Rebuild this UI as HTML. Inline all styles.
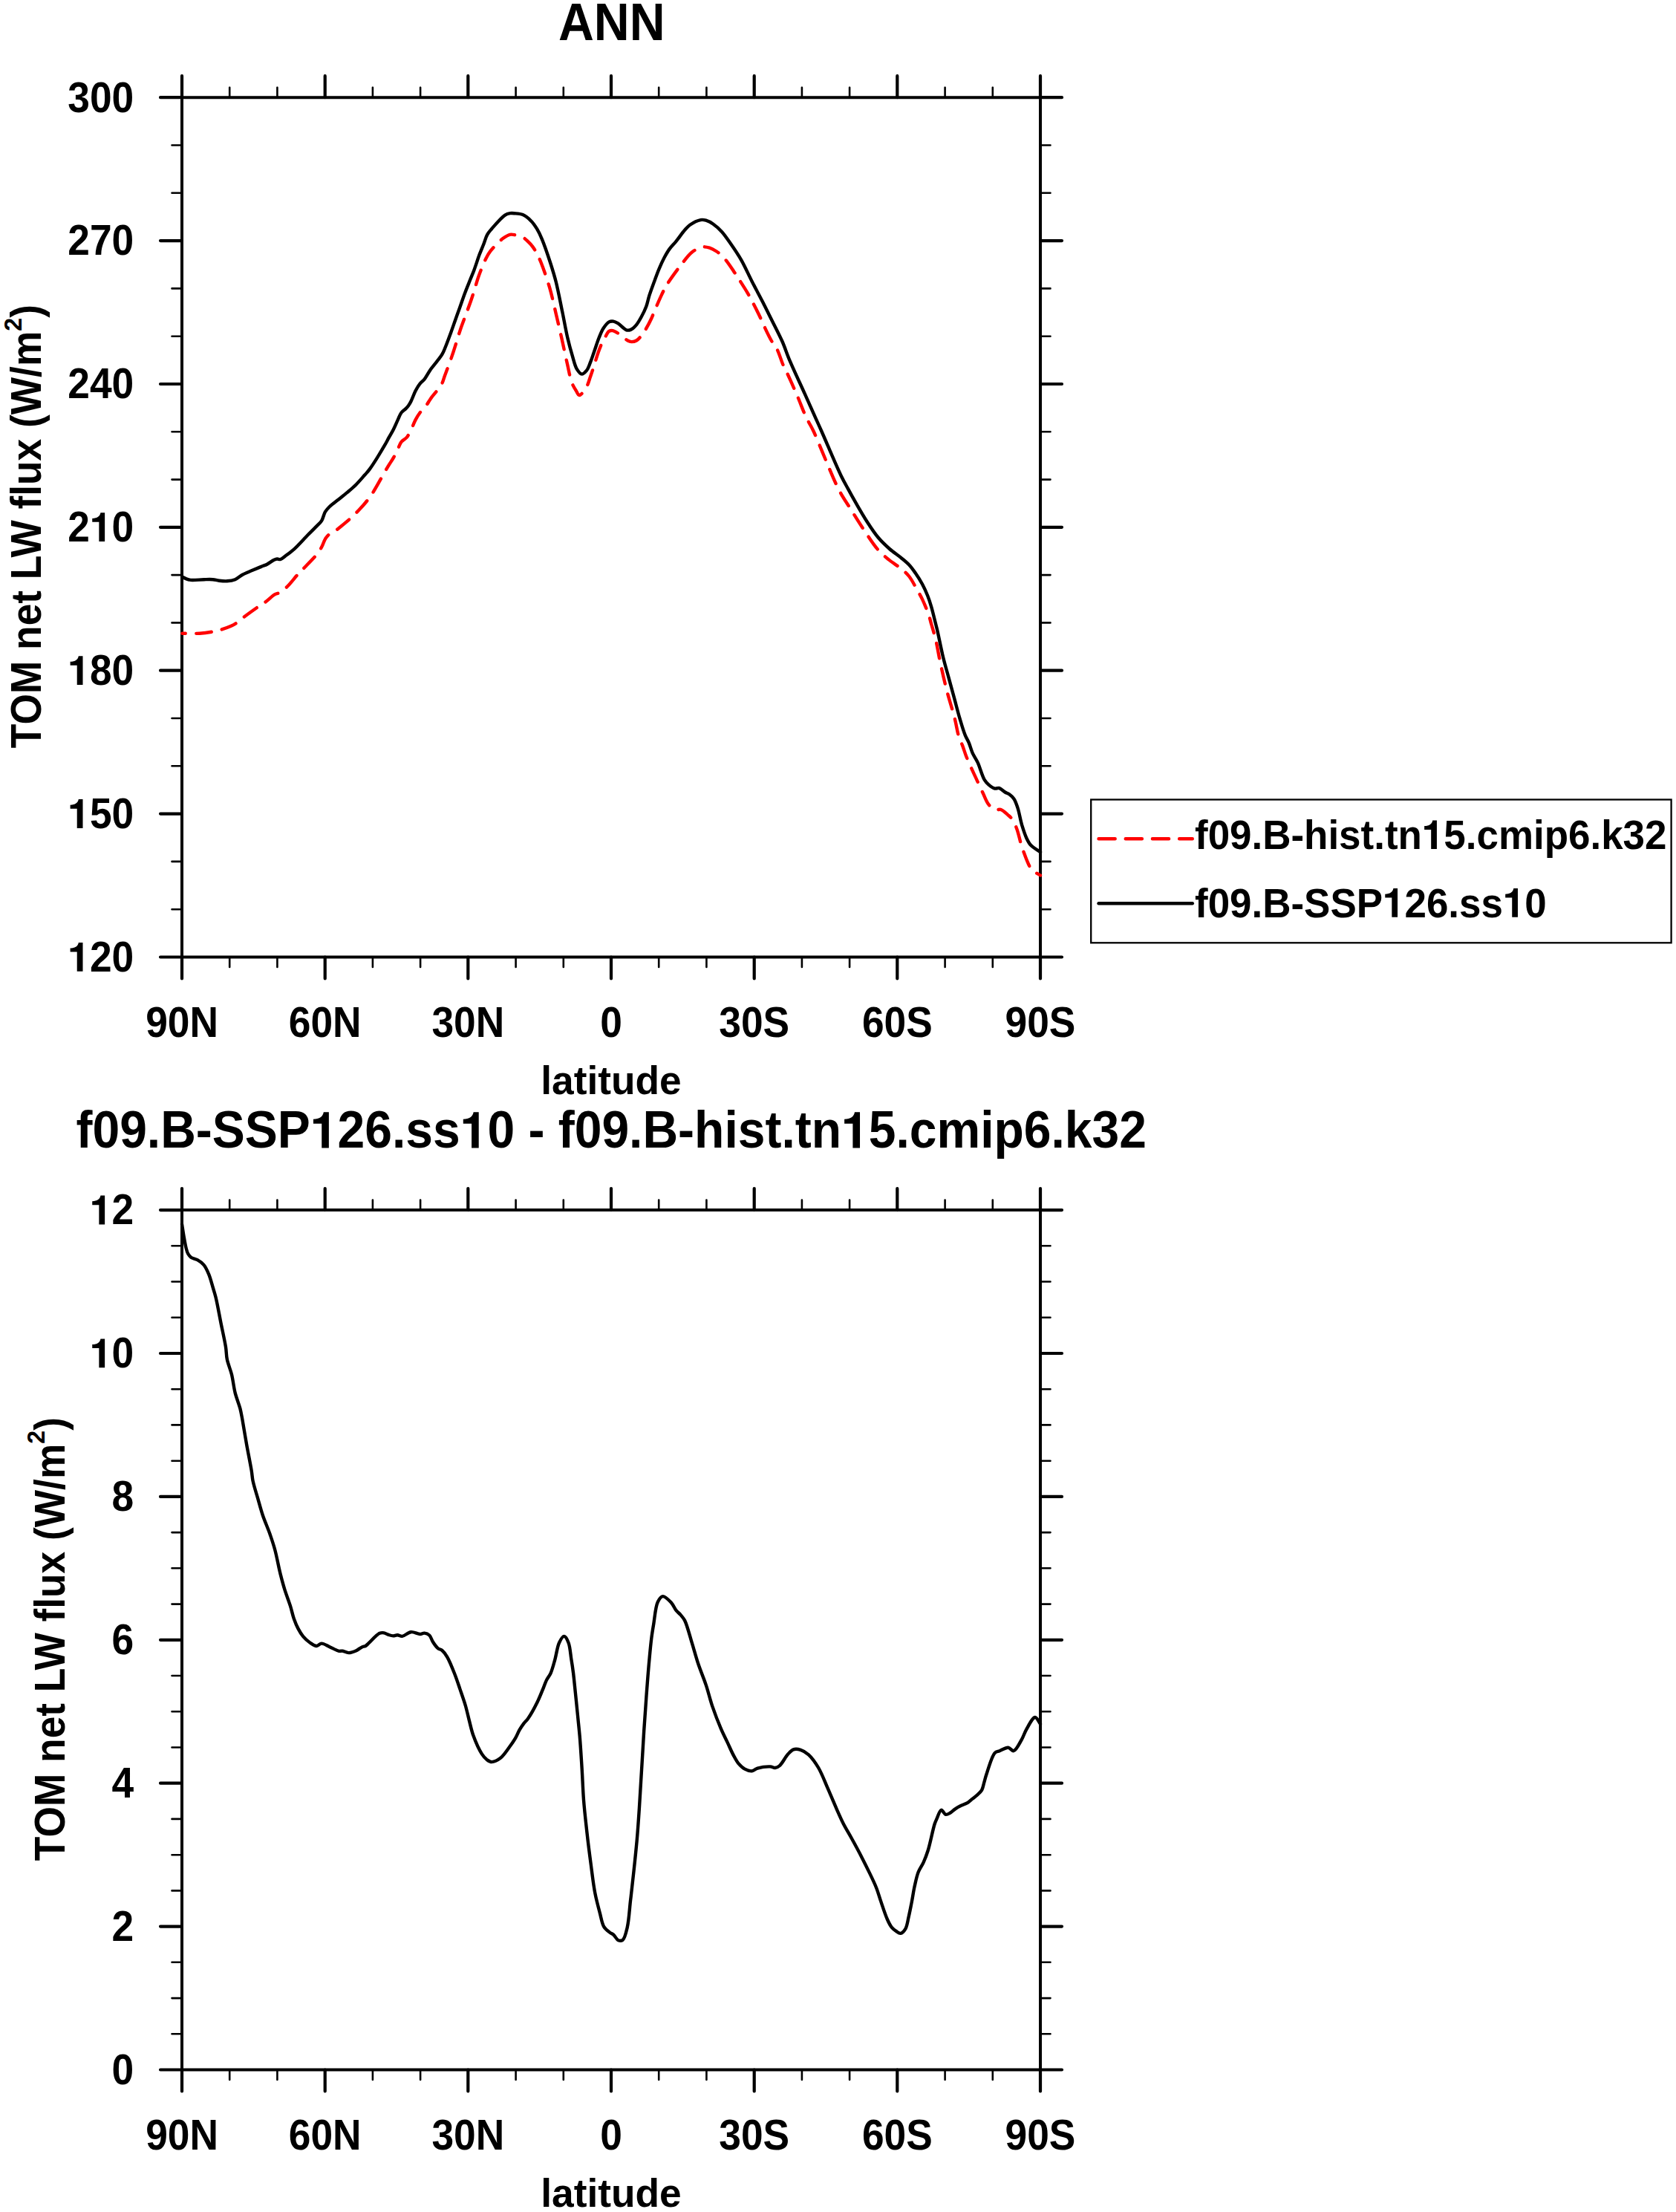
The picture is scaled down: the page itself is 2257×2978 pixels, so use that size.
<!DOCTYPE html><html><head><meta charset="utf-8"><style>html,body{margin:0;padding:0;background:#fff;overflow:hidden}svg{display:block}text{font-family:"Liberation Sans",sans-serif;font-weight:bold;fill:#000}</style></head><body>
<svg width="2257" height="2978" viewBox="0 0 2257 2978">
<rect width="2257" height="2978" fill="#fff"/>
<text transform="translate(823.7 53.9) scale(1 1.06)" font-size="66.3" text-anchor="middle">ANN</text>
<path d="M245 131.2 H1401 V1288.5 H245 Z" fill="none" stroke="#000" stroke-width="4.0" stroke-linejoin="round"/>
<path d="M245 131.2 V102.2 M245 1288.5 V1317.5 M437.7 131.2 V102.2 M437.7 1288.5 V1317.5 M630.3 131.2 V102.2 M630.3 1288.5 V1317.5 M823 131.2 V102.2 M823 1288.5 V1317.5 M1015.7 131.2 V102.2 M1015.7 1288.5 V1317.5 M1208.3 131.2 V102.2 M1208.3 1288.5 V1317.5 M1401 131.2 V102.2 M1401 1288.5 V1317.5 M245 131.2 H216 M1401 131.2 H1430 M245 324.1 H216 M1401 324.1 H1430 M245 517 H216 M1401 517 H1430 M245 709.8 H216 M1401 709.8 H1430 M245 902.7 H216 M1401 902.7 H1430 M245 1095.6 H216 M1401 1095.6 H1430 M245 1288.5 H216 M1401 1288.5 H1430" stroke="#000" stroke-width="4.2" stroke-linecap="round" fill="none"/>
<path d="M309.2 131.2 V117.7 M309.2 1288.5 V1302 M373.4 131.2 V117.7 M373.4 1288.5 V1302 M501.9 131.2 V117.7 M501.9 1288.5 V1302 M566.1 131.2 V117.7 M566.1 1288.5 V1302 M694.6 131.2 V117.7 M694.6 1288.5 V1302 M758.8 131.2 V117.7 M758.8 1288.5 V1302 M887.2 131.2 V117.7 M887.2 1288.5 V1302 M951.4 131.2 V117.7 M951.4 1288.5 V1302 M1079.9 131.2 V117.7 M1079.9 1288.5 V1302 M1144.1 131.2 V117.7 M1144.1 1288.5 V1302 M1272.6 131.2 V117.7 M1272.6 1288.5 V1302 M1336.8 131.2 V117.7 M1336.8 1288.5 V1302 M245 195.5 H231.5 M1401 195.5 H1414.5 M245 259.8 H231.5 M1401 259.8 H1414.5 M245 388.4 H231.5 M1401 388.4 H1414.5 M245 452.7 H231.5 M1401 452.7 H1414.5 M245 581.3 H231.5 M1401 581.3 H1414.5 M245 645.6 H231.5 M1401 645.6 H1414.5 M245 774.1 H231.5 M1401 774.1 H1414.5 M245 838.4 H231.5 M1401 838.4 H1414.5 M245 967 H231.5 M1401 967 H1414.5 M245 1031.3 H231.5 M1401 1031.3 H1414.5 M245 1159.9 H231.5 M1401 1159.9 H1414.5 M245 1224.2 H231.5 M1401 1224.2 H1414.5" stroke="#000" stroke-width="2.6" stroke-linecap="round" fill="none"/>
<text transform="translate(180.2 150.5) scale(1 1.06)" font-size="53.3" text-anchor="end">300</text>
<text transform="translate(180.2 343.4) scale(1 1.06)" font-size="53.3" text-anchor="end">270</text>
<text transform="translate(180.2 536.3) scale(1 1.06)" font-size="53.3" text-anchor="end">240</text>
<text transform="translate(180.2 729.1) scale(1 1.06)" font-size="53.3" text-anchor="end">210</text>
<text transform="translate(180.2 922) scale(1 1.06)" font-size="53.3" text-anchor="end">180</text>
<text transform="translate(180.2 1114.9) scale(1 1.06)" font-size="53.3" text-anchor="end">150</text>
<text transform="translate(180.2 1307.8) scale(1 1.06)" font-size="53.3" text-anchor="end">120</text>
<text transform="translate(245 1395.5) scale(1 1.06)" font-size="53.3" text-anchor="middle">90N</text>
<text transform="translate(437.7 1395.5) scale(1 1.06)" font-size="53.3" text-anchor="middle">60N</text>
<text transform="translate(630.3 1395.5) scale(1 1.06)" font-size="53.3" text-anchor="middle">30N</text>
<text transform="translate(823 1395.5) scale(1 1.06)" font-size="53.3" text-anchor="middle">0</text>
<text transform="translate(1015.7 1395.5) scale(1 1.06)" font-size="53.3" text-anchor="middle">30S</text>
<text transform="translate(1208.3 1395.5) scale(1 1.06)" font-size="53.3" text-anchor="middle">60S</text>
<text transform="translate(1401 1395.5) scale(1 1.06)" font-size="53.3" text-anchor="middle">90S</text>
<text transform="translate(823 1473) scale(1 1.0)" font-size="53.3" text-anchor="middle">latitude</text>
<text transform="translate(54.9 708.6) rotate(-90) scale(1 1.06)" font-size="53.3" text-anchor="middle">TOM net LW flux (W/m<tspan font-size="32.2" dy="-24.6">2</tspan><tspan dy="24.6">)</tspan></text>
<path d="M245.4 852.7 C253.2 852.7 261.6 853.2 268.9 852.7 C275.3 852.3 281.5 851.4 286.8 850.4 C291.2 849.6 294.7 848.6 298.7 847.4 C303 846.1 308.1 844.3 311.8 842.6 C314.6 841.3 316.5 840.1 319 838.4 C322 836.3 324.7 833.6 328.5 830.7 C333.7 826.7 342.1 820.7 347.6 816.9 C351.7 814.1 354.8 812.4 358.4 809.8 C362.3 806.9 366.7 802.2 370.3 800.2 C372.9 798.8 375.1 799 377.5 797.6 C380.6 795.8 383.6 792.9 387 789.5 C391.7 784.8 398 776.4 402.5 771.6 C405.7 768.2 407.7 766.6 410.9 763.2 C415.6 758.4 423.6 750.5 427.6 745.3 C430.3 741.8 431.7 739.1 433.5 735.8 C435.3 732.4 436.3 728.2 438.3 725.1 C440.2 722.3 443 719.2 445 717.9 C446.3 717.1 447.2 717.4 448.6 716.6 C451.1 715.3 455 712 458.2 709.5 C461.4 707 464.7 704.3 467.7 701.7 C470.6 699.1 473.3 696.6 476.1 693.9 C478.9 691.2 481.7 688.5 484.4 685.6 C487.2 682.6 490.2 679.2 492.8 676 C495.4 672.9 497.8 669.7 500 666.5 C502.1 663.4 503.7 660.7 505.9 656.9 C509 651.7 513.5 643.5 516.7 637.9 C519.3 633.4 521.5 629.7 523.8 625.9 C525.9 622.5 527.9 619.8 529.8 616.4 C531.9 612.7 533.9 608.2 535.8 604.4 C537.5 601.1 538.4 597.5 540.5 594.9 C542.5 592.4 545.5 591.5 547.7 588.9 C550.4 585.6 552.7 580 554.8 575.8 C556.6 572.1 557.8 568.5 559.6 565.1 C561.4 561.7 563.3 558.6 565.6 555.5 C568 552.2 571.5 549.2 573.9 546 C576.2 543 577.3 540.5 579.8 536.9 C583.6 531.5 591.5 523.1 594.7 517.2 C597 513.1 597.3 510.3 598.9 505.9 C601.2 499.6 604.8 490.3 607.3 483.2 C609.5 476.9 611.4 471.1 613.2 465.3 C614.9 460 616.5 454.5 618 449.8 C619.3 445.9 620.1 443.2 621.6 439 C623.8 432.8 627.5 423.4 630 416.4 C632.2 410.4 634.1 405.2 635.9 399.7 C637.6 394.5 639.2 389.1 640.7 384.2 C642.1 379.7 643 376.1 644.8 371.2 C647.2 364.6 651.3 354.2 654.3 348.3 C656.3 344.3 657.3 342.2 660 338.7 C664 333.5 672 325 677.2 321.1 C680.7 318.5 683.8 316.5 686.8 315.8 C689.2 315.3 691 315.8 693.5 316.3 C696.8 317 702 318.5 704.9 320.1 C707 321.2 708 322.3 709.7 323.9 C712 326 715.1 329.1 717.3 332.1 C719.5 335 721.3 338.2 723.1 341.6 C725.1 345.4 726.7 348.8 728.8 354 C732.1 362.4 736.9 376.2 740.2 387.4 C743.4 398.5 745.7 409.5 748.4 420.9 C751.2 432.7 754 445 756.7 456.8 C759.3 468.4 761.8 480.7 764.2 491.1 C766.2 499.9 767.7 509 770.1 515.3 C771.8 519.7 774 523.1 775.9 526.1 C777.3 528.4 778.3 531.9 780.1 532 C782.5 532.2 786.9 525.9 789.3 522 C792 517.7 793.4 511.7 795.1 506.9 C796.7 502.6 797.8 499.1 799.3 494.4 C801.3 488.3 803.8 479.5 806 473.5 C807.7 468.8 809.3 464.6 811 461 C812.4 458.1 813.7 456 815.2 453.5 C816.8 450.9 818.2 447.2 820.2 445.9 C821.7 444.9 823.3 444.8 825.2 445.1 C827.9 445.6 831.3 448.1 834.4 450.1 C838 452.4 842.2 456.9 845.3 458.5 C847.2 459.5 848.5 460 850.3 460.1 C852.4 460.2 854.9 459.7 857 458.5 C859.7 457 862.4 453.5 864.5 450.9 C866.5 448.5 867.7 446.3 869.5 443.4 C871.8 439.5 874.9 433.7 877 429.2 C878.8 425.4 879.7 422.6 881.5 418.4 C884.1 412.4 888.1 403 891 396.9 C893.2 392.3 894.4 389.3 897 385 C900.4 379.3 906.3 371.1 910.1 365.9 C912.8 362.1 914.4 360 917.3 356.4 C921.2 351.6 926.4 343.8 931.6 339.7 C936 336.2 941.5 333.3 945.9 332.5 C949.3 331.9 952.4 332.8 955.5 333.7 C958.8 334.7 961.9 336.5 965 338.5 C968.3 340.7 971.4 343.3 974.6 346.8 C978.9 351.5 984.1 359.4 987.7 364.7 C990.5 368.7 992.1 371.4 994.8 375.5 C998.3 380.9 1003.6 389.1 1006.8 394.6 C1009.2 398.6 1010.5 401.1 1012.7 405.3 C1015.8 411.2 1020.7 420.8 1023.5 426.8 C1025.5 431 1026.3 433.3 1028.3 437.5 C1031.1 443.5 1035.6 453.2 1039 459 C1041.5 463.3 1043.9 465.3 1046.2 469.7 C1049.3 475.6 1052.1 485.7 1054.7 491.6 C1056.5 495.7 1057.9 497.7 1059.8 501.8 C1062.6 507.8 1067.2 518.2 1069.9 524.2 C1071.7 528.2 1072.6 530.2 1074.3 534.3 C1076.9 540.4 1081 551.4 1083.7 557.5 C1085.5 561.6 1086.9 564.1 1088.7 567.6 C1090.7 571.5 1092.7 574.6 1095.3 580 C1100 589.8 1107.3 608.6 1113.2 622.3 C1118.8 635.3 1124.1 648.9 1130 660 C1135 669.5 1140 676.5 1145.5 685.3 C1151.5 694.9 1158.2 705.8 1164.6 715.2 C1170.5 724 1176.5 733.4 1182.5 740.2 C1187.3 745.6 1191.6 749.1 1196.8 753.4 C1202.3 757.9 1209.8 762.3 1214.7 766.5 C1218.5 769.8 1221.2 772.1 1224.3 776 C1228.1 780.8 1231.8 788.4 1235 793.9 C1237.7 798.6 1239.8 802.2 1242.2 807.1 C1245 813.1 1248.4 821.4 1250.5 827.4 C1252.1 832 1252.8 835.2 1254.1 840 C1255.9 846.2 1258.2 853.5 1260.1 861.4 C1262.4 870.8 1264 881.9 1266.4 892.8 C1269 904.8 1272 918.1 1275.2 930.4 C1278.3 942.3 1282.3 954.3 1285.2 965.4 C1287.8 975.4 1289.5 987.1 1291.8 993.9 C1293.1 997.8 1294.4 999.4 1295.8 1002.9 C1297.7 1007.6 1299.5 1014.1 1301.8 1019.8 C1304.2 1025.7 1307.2 1032.2 1309.7 1037.7 C1311.8 1042.4 1313.6 1046 1315.7 1050.6 C1318.2 1055.9 1320.9 1062 1323.6 1067.5 C1326.2 1072.9 1328.3 1079.4 1331.6 1083.4 C1334.2 1086.6 1337.5 1089.5 1340.5 1090.4 C1342.8 1091.1 1345.1 1089.2 1347.5 1089.9 C1350.7 1090.8 1354.7 1094.9 1357.5 1097.3 C1359.8 1099.3 1361.6 1100.7 1363.4 1103.3 C1365.7 1106.6 1367.7 1111.5 1369.4 1116.2 C1371.4 1121.6 1372.7 1128.4 1374.4 1134.1 C1376 1139.3 1377.5 1144.1 1379.3 1149.1 C1381.1 1154.1 1383.4 1160 1385.3 1164 C1386.7 1166.8 1387.3 1168.8 1389.3 1170.9 C1392 1173.7 1397.1 1176 1401 1178.5" fill="none" stroke="#f00" stroke-width="4.4" stroke-linejoin="round" stroke-linecap="round" stroke-dasharray="20.6 14.4" stroke-dashoffset="16.2"/>
<path d="M245.4 776.5 C247.3 777.5 249.1 778.7 251 779.4 C252.9 780.1 254.4 780.6 256.9 780.9 C261.2 781.4 269.4 780.3 274.8 780.2 C279.2 780.1 283.2 779.9 286.8 780.2 C289.8 780.5 292.1 781.4 295.1 781.7 C298.5 782.1 302.3 782.5 305.9 782.3 C309.5 782.1 313.3 781.6 316.6 780.2 C320 778.8 322.7 775.9 326.1 774 C329.8 772 333.9 770.4 338.1 768.6 C342.6 766.6 348.4 764.2 352.4 762.6 C355.2 761.4 357.1 761 359.6 759.7 C362.6 758.2 366.5 754.9 369.1 753.7 C370.7 753 371.9 752.6 373.3 752.5 C374.7 752.4 376 753.4 377.5 753.1 C379.6 752.6 382 750.2 384.6 748.3 C388.1 745.7 392.3 742.7 396.6 738.8 C402.1 733.8 409.1 725.8 414.5 720.3 C418.9 715.9 423 711.9 426.4 708.4 C429 705.7 431.3 704 433.1 701.1 C435.2 697.8 435.9 692.5 437.9 689.2 C439.6 686.3 441.4 684.4 443.9 682 C447.1 678.9 451.8 675.7 455.8 672.5 C459.8 669.3 463.8 666.2 467.7 662.9 C471.7 659.5 475.8 656.1 479.7 652.2 C483.8 648.1 488.3 642.7 491.6 639 C494 636.3 495.5 634.8 497.6 631.9 C500.5 628 503.9 622.7 507.1 617.6 C510.6 612 514.9 604.9 517.9 599.7 C520.2 595.7 521.8 592.5 523.8 588.9 C525.8 585.3 527.9 582 529.8 578.2 C531.9 574.1 533.9 569.1 535.8 565.1 C537.4 561.6 538.5 558.1 540.5 555.5 C542.2 553.2 544.8 551.8 546.5 550.1 C547.9 548.7 549 547.6 550.1 546 C551.4 544.2 552.4 542.5 553.6 540 C555.4 536.4 557.4 530.3 559.5 526.2 C561.4 522.6 563.3 519.3 565.5 516.6 C567.4 514.2 569.5 513.1 571.5 510.6 C574.2 507.2 576.5 502.3 579.8 497.5 C584.1 491.4 591.8 483.1 595.3 477.2 C597.7 473.2 598.4 470.6 600.1 466.5 C602.3 461.1 605 453.6 607.3 447.4 C609.4 441.7 611.2 436.3 613.2 430.7 C615.2 425.1 617.1 419.8 619.2 414 C621.5 407.6 623.9 400.2 626.4 393.7 C628.7 387.5 631.4 381.2 633.5 375.8 C635.2 371.4 636.6 368.5 638.3 363.9 C640.6 357.8 643.3 349 645.7 342.6 C647.7 337.3 649.7 332.8 651.5 328.2 C653.2 323.9 654.2 319.3 656.2 315.8 C657.9 312.8 659.4 311.2 662 308.2 C666.3 303.3 675.2 292.7 680.1 289.6 C682.7 288 684.6 287.6 686.8 287.2 C688.7 286.9 690.3 287 692.5 287.2 C695.7 287.5 700.4 287.5 704 289.1 C708 290.8 712.2 294.4 715.4 297.7 C718.5 300.8 720.8 304.4 723.1 308.2 C725.6 312.3 727.4 316.1 729.7 321.6 C733.2 330 737.9 343.8 741.2 354 C744.1 363 746.4 370.2 748.8 379.8 C751.8 391.9 754.8 407.9 757.5 420.9 C759.9 432.6 761.8 444 764.2 454.3 C766.3 463.3 768.6 471.8 770.9 479.4 C772.8 485.8 774.2 492.6 776.8 496.9 C778.7 499.9 781.1 503.4 783.4 503.6 C785.6 503.8 788.2 500.9 790.1 498.6 C792.3 495.9 793.5 491.6 795.1 487.7 C796.9 483.3 798.3 478.6 800.1 473.5 C802.2 467.6 804.5 460 806.8 454.3 C808.7 449.6 810.3 445.4 812.7 441.8 C814.9 438.5 817.6 434.8 820.2 433.4 C822.1 432.4 824.1 432.3 826 432.6 C828 432.9 829.7 433.8 831.9 435.1 C835.3 437.1 840.2 443.3 843.6 444.3 C845.7 445 847.5 444.6 849.4 443.9 C851.7 443 854 440.8 856.1 438.4 C858.8 435.4 861.3 430.9 863.6 426.7 C866.1 422.3 868.5 417.3 870.3 412.5 C872.1 407.8 872.7 403.3 874.3 398.1 C876.3 391.9 879.2 384.2 881.5 377.9 C883.5 372.4 885.2 367.5 887.4 362.3 C889.6 357.1 892.1 351.6 894.6 346.8 C896.9 342.5 899.1 338.6 901.8 334.9 C904.3 331.4 907.1 328.9 910.1 325.3 C913.8 320.8 918.5 313.9 922.1 309.8 C924.7 306.9 926.2 304.8 929.2 302.7 C933 300.1 939.5 296.8 943.5 296.1 C946.2 295.6 948.2 296 950.7 296.7 C953.7 297.6 957 299.3 960.2 301.5 C964.1 304.2 968.3 307.9 972.2 312.2 C976.7 317.2 981 323.9 985.3 330.1 C989.8 336.6 994.1 342.9 998.4 350.4 C1003.3 359 1007.9 369.6 1012.7 379 C1017.4 388.3 1022.5 397.4 1027.1 406.5 C1031.6 415.3 1035.8 423.9 1040.2 432.7 C1044.7 441.7 1049.6 451 1053.6 460 C1057.3 468.5 1059.4 475.7 1063.4 485.1 C1068.7 497.7 1076.9 515 1083 528.5 C1088.3 540.2 1093.5 552 1097.7 561.4 C1100.9 568.5 1102.6 572 1106.1 580 C1112.5 594.3 1125.6 626 1132.4 640 C1136.2 647.8 1138.5 651.7 1141.9 657.9 C1145.6 664.8 1149.7 672.1 1153.9 679.4 C1158.4 687.2 1163.3 695.7 1168.2 703.2 C1172.8 710.3 1177.4 717.4 1182.5 723.5 C1187.3 729.2 1192.7 734.3 1198 739 C1203 743.4 1208.9 747.2 1213.5 751 C1217.5 754.3 1221.1 757.1 1224.3 760.5 C1227.4 763.8 1229.8 767.3 1232.6 771.3 C1235.8 775.9 1239.4 781.5 1242.2 786.8 C1244.9 791.9 1247.3 797.2 1249.3 802.3 C1251.2 807.1 1252.5 811.2 1254.1 816.6 C1256.1 823.4 1258.5 833.8 1260.1 840 C1261.1 844.1 1261.6 845.8 1262.6 850.2 C1264.5 858.4 1267.5 874.3 1270.2 885.2 C1272.6 895 1275.2 903.6 1277.7 912.8 C1280.2 922 1282.7 931.2 1285.2 940.4 C1287.7 949.6 1290.1 959.4 1292.7 968 C1295 975.8 1297.4 984.1 1299.8 989.9 C1301.4 993.9 1303.2 996.2 1304.7 999.9 C1306.5 1004.1 1307.7 1009.3 1309.7 1013.8 C1311.7 1018.3 1314.4 1021.7 1316.7 1026.7 C1319.7 1033.2 1322.4 1044.3 1325.6 1049.6 C1327.5 1052.8 1329.3 1054.6 1331.6 1056.6 C1333.9 1058.6 1337 1060.9 1339.6 1061.5 C1341.6 1062 1343.5 1060.5 1345.5 1061 C1348.1 1061.7 1351 1065 1353.5 1066.5 C1355.6 1067.7 1357.5 1068.1 1359.4 1069.5 C1361.5 1071 1363.7 1073 1365.4 1075.5 C1367.5 1078.6 1368.8 1082.7 1370.4 1087.4 C1372.6 1093.9 1374.1 1104.1 1376.3 1111.3 C1378.2 1117.5 1380 1123.4 1382.3 1128.2 C1384.1 1132 1385.5 1135.1 1388.3 1138.1 C1391.5 1141.5 1396.8 1144.1 1401 1147.1" fill="none" stroke="#000" stroke-width="4.4" stroke-linejoin="round" stroke-linecap="round"/>
<rect x="1469.2" y="1076.5" width="781.4" height="192.8" fill="none" stroke="#000" stroke-width="2.3"/>
<path d="M1479.5 1129.3 H1605.8" stroke="#f00" stroke-width="4.4" stroke-linecap="round" stroke-dasharray="22.2 14"/>
<path d="M1479.5 1216.2 H1605.8" stroke="#000" stroke-width="4.4" stroke-linecap="round"/>
<text transform="translate(1609 1143) scale(1 1.06)" font-size="52.95" text-anchor="start">f09.B-hist.tn15.cmip6.k32</text>
<text transform="translate(1609 1234.7) scale(1 1.06)" font-size="52.95" text-anchor="start">f09.B-SSP126.ss10</text>
<text transform="translate(823.2 1545.4) scale(1 1.06)" font-size="66.0" text-anchor="middle">f09.B-SSP126.ss10 - f09.B-hist.tn15.cmip6.k32</text>
<path d="M245 1629.1 H1401 V2786.5 H245 Z" fill="none" stroke="#000" stroke-width="4.0" stroke-linejoin="round"/>
<path d="M245 1629.1 V1600.1 M245 2786.5 V2815.5 M437.7 1629.1 V1600.1 M437.7 2786.5 V2815.5 M630.3 1629.1 V1600.1 M630.3 2786.5 V2815.5 M823 1629.1 V1600.1 M823 2786.5 V2815.5 M1015.7 1629.1 V1600.1 M1015.7 2786.5 V2815.5 M1208.3 1629.1 V1600.1 M1208.3 2786.5 V2815.5 M1401 1629.1 V1600.1 M1401 2786.5 V2815.5 M245 1629.1 H216 M1401 1629.1 H1430 M245 1822 H216 M1401 1822 H1430 M245 2014.9 H216 M1401 2014.9 H1430 M245 2207.8 H216 M1401 2207.8 H1430 M245 2400.7 H216 M1401 2400.7 H1430 M245 2593.6 H216 M1401 2593.6 H1430 M245 2786.5 H216 M1401 2786.5 H1430" stroke="#000" stroke-width="4.2" stroke-linecap="round" fill="none"/>
<path d="M309.2 1629.1 V1615.6 M309.2 2786.5 V2800 M373.4 1629.1 V1615.6 M373.4 2786.5 V2800 M501.9 1629.1 V1615.6 M501.9 2786.5 V2800 M566.1 1629.1 V1615.6 M566.1 2786.5 V2800 M694.6 1629.1 V1615.6 M694.6 2786.5 V2800 M758.8 1629.1 V1615.6 M758.8 2786.5 V2800 M887.2 1629.1 V1615.6 M887.2 2786.5 V2800 M951.4 1629.1 V1615.6 M951.4 2786.5 V2800 M1079.9 1629.1 V1615.6 M1079.9 2786.5 V2800 M1144.1 1629.1 V1615.6 M1144.1 2786.5 V2800 M1272.6 1629.1 V1615.6 M1272.6 2786.5 V2800 M1336.8 1629.1 V1615.6 M1336.8 2786.5 V2800 M245 1677.3 H231.5 M1401 1677.3 H1414.5 M245 1725.5 H231.5 M1401 1725.5 H1414.5 M245 1773.8 H231.5 M1401 1773.8 H1414.5 M245 1870.2 H231.5 M1401 1870.2 H1414.5 M245 1918.4 H231.5 M1401 1918.4 H1414.5 M245 1966.7 H231.5 M1401 1966.7 H1414.5 M245 2063.1 H231.5 M1401 2063.1 H1414.5 M245 2111.3 H231.5 M1401 2111.3 H1414.5 M245 2159.6 H231.5 M1401 2159.6 H1414.5 M245 2256 H231.5 M1401 2256 H1414.5 M245 2304.2 H231.5 M1401 2304.2 H1414.5 M245 2352.5 H231.5 M1401 2352.5 H1414.5 M245 2448.9 H231.5 M1401 2448.9 H1414.5 M245 2497.2 H231.5 M1401 2497.2 H1414.5 M245 2545.4 H231.5 M1401 2545.4 H1414.5 M245 2641.8 H231.5 M1401 2641.8 H1414.5 M245 2690.1 H231.5 M1401 2690.1 H1414.5 M245 2738.3 H231.5 M1401 2738.3 H1414.5" stroke="#000" stroke-width="2.6" stroke-linecap="round" fill="none"/>
<text transform="translate(180.2 1648.4) scale(1 1.06)" font-size="53.3" text-anchor="end">12</text>
<text transform="translate(180.2 1841.3) scale(1 1.06)" font-size="53.3" text-anchor="end">10</text>
<text transform="translate(180.2 2034.2) scale(1 1.06)" font-size="53.3" text-anchor="end">8</text>
<text transform="translate(180.2 2227.1) scale(1 1.06)" font-size="53.3" text-anchor="end">6</text>
<text transform="translate(180.2 2420) scale(1 1.06)" font-size="53.3" text-anchor="end">4</text>
<text transform="translate(180.2 2612.9) scale(1 1.06)" font-size="53.3" text-anchor="end">2</text>
<text transform="translate(180.2 2805.8) scale(1 1.06)" font-size="53.3" text-anchor="end">0</text>
<text transform="translate(245 2893.5) scale(1 1.06)" font-size="53.3" text-anchor="middle">90N</text>
<text transform="translate(437.7 2893.5) scale(1 1.06)" font-size="53.3" text-anchor="middle">60N</text>
<text transform="translate(630.3 2893.5) scale(1 1.06)" font-size="53.3" text-anchor="middle">30N</text>
<text transform="translate(823 2893.5) scale(1 1.06)" font-size="53.3" text-anchor="middle">0</text>
<text transform="translate(1015.7 2893.5) scale(1 1.06)" font-size="53.3" text-anchor="middle">30S</text>
<text transform="translate(1208.3 2893.5) scale(1 1.06)" font-size="53.3" text-anchor="middle">60S</text>
<text transform="translate(1401 2893.5) scale(1 1.06)" font-size="53.3" text-anchor="middle">90S</text>
<text transform="translate(823 2971) scale(1 1.0)" font-size="53.3" text-anchor="middle">latitude</text>
<text transform="translate(86.5 2206.6) rotate(-90) scale(1 1.06)" font-size="53.3" text-anchor="middle">TOM net LW flux (W/m<tspan font-size="32.2" dy="-24.6">2</tspan><tspan dy="24.6">)</tspan></text>
<path d="M245 1648 C246 1654.5 247 1661.6 248.1 1667.5 C249 1672.4 249.8 1677.3 250.8 1681 C251.5 1683.7 252 1685.8 253.1 1687.8 C254.2 1689.7 255.4 1691.5 257.2 1692.8 C259.4 1694.4 263 1694.6 265.8 1696.2 C268.8 1697.9 272 1700 274.4 1702.9 C277.2 1706.2 279.1 1710.7 281.1 1715.3 C283.4 1720.7 285.1 1727.9 286.8 1733.5 C288.2 1738.3 289.3 1741.3 290.6 1746.8 C292.7 1755.4 295.1 1769.1 297.3 1780.2 C299.5 1791.4 302.6 1804.5 304 1813.7 C305 1820.1 304.6 1824.3 305.8 1830 C307.1 1836.5 310.2 1843.3 312 1850.5 C313.9 1858.3 314.7 1867.5 316.7 1875.4 C318.6 1882.8 321.7 1890 323.4 1896.4 C324.7 1901.6 325.2 1904.9 326.3 1910.7 C327.9 1919.5 330 1932.8 332 1944.1 C334.1 1955.9 337.2 1970.9 338.7 1980 C339.6 1985.5 339.5 1988.3 340.5 1993.4 C341.9 2000.3 344.9 2009.4 347.2 2017.3 C349.4 2025 351.3 2032.5 353.9 2040.2 C356.7 2048.4 360.6 2057 363.4 2065 C365.9 2072.3 368 2078.2 370.1 2086 C372.8 2095.7 375.1 2109.3 377.6 2119.1 C379.6 2126.9 381.2 2133.1 383.4 2140.1 C385.7 2147.4 388.8 2155.2 391 2162.1 C392.9 2168.1 393.9 2173.9 395.8 2179.2 C397.5 2184 399.3 2188.5 401.5 2192.6 C403.5 2196.4 405.5 2199.9 408.2 2203.1 C410.9 2206.3 414.5 2209.5 417.7 2211.7 C420.5 2213.6 423.6 2216 426.3 2216 C428.7 2216 430.5 2212.7 433 2212.6 C436.1 2212.5 439.9 2215.3 443.5 2216.9 C447.5 2218.6 452.5 2221.9 455.9 2222.7 C458.1 2223.2 459.6 2222.4 461.6 2222.7 C464 2223.1 466.5 2225.1 469.3 2225.1 C472.5 2225.2 476.7 2223.6 479.8 2222.2 C482.6 2220.9 485.1 2218.4 487.4 2217.4 C489.1 2216.6 490.7 2216.8 492.2 2216 C493.9 2215 495.2 2213.4 497 2211.7 C499.5 2209.4 503 2205.4 505.6 2203.1 C507.6 2201.3 509.3 2199.6 511.3 2198.8 C513.1 2198.1 515.1 2198 517 2198.3 C518.9 2198.6 520.7 2200 522.7 2200.7 C524.8 2201.4 527.3 2202.4 529.5 2202.4 C531.5 2202.4 533.3 2201.1 535.3 2201.2 C537.3 2201.3 539.1 2203.1 541.5 2202.9 C544.9 2202.6 549.3 2197.7 553.4 2197.2 C557.4 2196.7 562.4 2200 565.8 2200 C568.1 2200 569.6 2198.4 571.6 2198.6 C573.8 2198.8 576.4 2199.8 578.2 2201.5 C580.4 2203.5 581.1 2207.6 583 2210.5 C584.9 2213.5 587.3 2217.1 589.7 2219.1 C591.5 2220.6 593.6 2220.5 595.4 2222 C597.8 2224 599.9 2226.8 602.1 2230.6 C605.6 2236.4 609.6 2246.9 612.6 2254.5 C615.2 2261.2 617 2266.9 619.3 2273.6 C621.8 2280.9 624.8 2289.2 626.9 2296.5 C628.8 2303.1 630 2309.1 631.7 2315.6 C633.5 2322.4 634.8 2329.4 637.4 2336.6 C640.3 2344.6 645.2 2355.7 648.9 2361.4 C651.2 2364.9 653.2 2367.2 655.6 2369 C657.7 2370.5 659.7 2372.1 662.2 2372.1 C665.5 2372.1 670.1 2369.8 673.7 2367.1 C678.2 2363.7 682.6 2356.6 686.2 2351.8 C689.2 2347.8 691.6 2344.3 693.9 2340.4 C696.1 2336.6 697.6 2332.4 699.6 2328.9 C701.4 2325.8 703.3 2322.9 705.3 2320.3 C707.1 2317.9 708.9 2316.7 711 2313.7 C714.6 2308.6 719.9 2299 723.5 2291.7 C726.9 2284.9 729.8 2277.1 732.1 2271.6 C733.6 2267.9 734.4 2265.2 735.9 2262.1 C737.5 2258.9 739.9 2256.4 741.6 2252.6 C743.8 2247.6 745.5 2240.8 747.3 2234.4 C749.3 2227.2 750.4 2217.1 753.1 2211.5 C754.9 2207.7 757.6 2202.8 759.7 2202.9 C761.7 2203 764 2207.8 765.5 2211.5 C767.7 2217 768.2 2226.4 769.3 2233.5 C770.4 2240.1 771.2 2245.6 772.1 2252.6 C773.1 2260.9 774 2270.9 775 2280.2 C776 2289.7 776.9 2299.3 777.9 2308.9 C778.8 2318.4 779.8 2327 780.7 2337.5 C781.8 2350.3 782.7 2365.8 783.6 2380 C784.5 2394.4 784.9 2408.9 786 2423.4 C787.1 2437.9 788.8 2452.3 790.4 2466.8 C792 2481.3 793.9 2496.2 795.8 2510.2 C797.5 2523.3 799 2536.6 801.2 2548.2 C803.1 2558.1 805.6 2567.2 807.8 2575.4 C809.6 2582.2 810.5 2589.2 813.2 2593.8 C815.2 2597.2 818.4 2599.5 820.8 2601.4 C822.7 2602.9 824.4 2603.2 826.2 2604.7 C828.4 2606.6 830.3 2611.3 832.7 2612.3 C834.6 2613 837 2613 838.7 2611.7 C841.6 2609.4 843.1 2601.7 844.7 2594.9 C847 2585.3 847.6 2571.2 849 2559.1 C850.5 2546.6 851.9 2534.2 853.3 2521.1 C854.8 2507.1 856.4 2492.2 857.7 2477.7 C859 2463.2 859.9 2449.6 860.9 2434.3 C862 2417.2 863.1 2397.7 864.2 2380 C865.2 2363 866.1 2346.4 867.2 2330 C868.2 2314 869.4 2298.1 870.5 2282.7 C871.6 2268 872.7 2253.2 873.9 2239.8 C875 2228 876 2216 877.2 2206.4 C878.1 2199.1 878.9 2194.4 880.1 2187.3 C881.6 2178.3 882.6 2163.2 885.8 2156.7 C887.6 2153 889.8 2149.4 892.5 2149.1 C895.7 2148.8 900.9 2154.4 904 2157.7 C906.9 2160.8 908.3 2165.3 910.6 2168.2 C912.5 2170.5 914.6 2171.8 916.4 2173.9 C918.4 2176.2 920.2 2178 922.1 2181.6 C925.4 2188.1 928.6 2201.3 931.6 2211.1 C934.6 2220.7 937 2230.3 940.2 2239.8 C943.4 2249.4 947.5 2258.8 950.7 2268.4 C953.9 2277.9 956 2287.5 959.3 2297.1 C962.7 2307 967 2318.2 970.7 2326.9 C973.6 2333.8 976.4 2339 979.3 2345.1 C982.2 2351.2 985.1 2358.2 987.9 2363.4 C990.1 2367.5 991.8 2371 994.4 2374.1 C996.9 2377 999.8 2379.9 1003 2381.6 C1005.9 2383.2 1009.6 2384.6 1012.6 2384.3 C1015.3 2384.1 1017 2381.5 1020.1 2380.6 C1024.6 2379.3 1033 2378.2 1037.3 2378.4 C1040 2378.6 1041.7 2380.2 1043.8 2380 C1046 2379.8 1048 2378.7 1050.2 2376.8 C1053.7 2373.8 1057.5 2365.6 1061 2361.8 C1063.6 2359 1065.6 2356.3 1068.5 2355.3 C1071.3 2354.3 1074.9 2354.8 1078.1 2355.8 C1081.7 2356.9 1085.4 2359.2 1088.9 2362.3 C1093.5 2366.5 1098.2 2373.2 1102.2 2380 C1106.8 2387.8 1110.4 2397.8 1114.4 2406.9 C1118.5 2416.2 1122.8 2426.7 1126.6 2435.3 C1129.8 2442.5 1132.3 2448.4 1135.6 2454.9 C1139.1 2461.7 1143.2 2468.2 1147 2475.2 C1151 2482.6 1155.2 2490.2 1159.2 2498 C1163.3 2506 1167.7 2514.8 1171.4 2522.4 C1174.6 2529 1177.5 2534.9 1180 2541.2 C1182.4 2547.2 1183.8 2552.7 1186 2559.1 C1188.6 2566.7 1192 2577.5 1194.9 2584 C1196.9 2588.5 1198.6 2592.1 1200.9 2594.9 C1202.7 2597.1 1204.7 2598.5 1206.8 2599.9 C1208.7 2601.2 1210.9 2603.2 1212.8 2602.9 C1215 2602.6 1217.6 2599.7 1219.3 2596.9 C1221.7 2592.9 1222.4 2585.8 1223.8 2580 C1225.2 2573.9 1226.4 2567.6 1227.7 2561.1 C1229.1 2554.1 1230.1 2546.2 1231.7 2539.2 C1233.2 2532.6 1234.5 2525.9 1236.7 2520.3 C1238.6 2515.5 1241.5 2512 1243.6 2507.4 C1245.8 2502.4 1247.6 2497.9 1249.6 2491.5 C1252.6 2482 1256.2 2463 1258.6 2455.7 C1259.7 2452.4 1260.3 2451.3 1261.5 2448.7 C1263.1 2445.2 1265.2 2437.2 1267.5 2436.8 C1269.3 2436.5 1271.3 2442.3 1273.5 2442.8 C1275.3 2443.2 1277.4 2441.9 1279.4 2440.8 C1281.7 2439.5 1284 2436.9 1286.4 2435.3 C1288.7 2433.8 1290.8 2432.6 1293.4 2431.3 C1296.4 2429.8 1300.5 2428.5 1303.3 2426.8 C1305.7 2425.3 1307.2 2423.6 1309.3 2421.9 C1311.5 2420.1 1314.1 2418.4 1316.2 2416.4 C1318.4 2414.4 1320.7 2412.5 1322.2 2409.9 C1323.8 2407.1 1324.2 2403.4 1325.2 2400 C1326.3 2396.3 1326.9 2393.1 1328.5 2388.5 C1331 2381.1 1335.5 2364.3 1339.7 2359.9 C1341.7 2357.8 1343.6 2358.2 1346.1 2357.2 C1349.4 2355.9 1354.4 2352.4 1357.8 2352.7 C1360.6 2353 1362.6 2357.7 1365 2357.2 C1368.6 2356.5 1372.9 2346.9 1375.9 2341.8 C1378.5 2337.3 1379.5 2332.9 1382.2 2328.3 C1385.3 2323 1390.5 2312.1 1394 2312 C1396.6 2312 1398.7 2318 1401 2321" fill="none" stroke="#000" stroke-width="4.4" stroke-linejoin="round" stroke-linecap="round"/>
<g>
<rect x="121.97" y="687.17" width="29.54" height="43.86" fill="#fff"/>
<path transform="translate(120.93 729.10) scale(53.3000 -56.4980)" d="M0.379 0 L0.379 0.688 L0.272 0.688 C0.255 0.6 0.19 0.556 0.062 0.552 L0.062 0.465 L0.233 0.465 L0.233 0 Z" fill="#000"/>
<rect x="92.34" y="880.07" width="29.54" height="43.86" fill="#fff"/>
<path transform="translate(91.30 922.00) scale(53.3000 -56.4980)" d="M0.379 0 L0.379 0.688 L0.272 0.688 C0.255 0.6 0.19 0.556 0.062 0.552 L0.062 0.465 L0.233 0.465 L0.233 0 Z" fill="#000"/>
<rect x="92.34" y="1072.97" width="29.54" height="43.86" fill="#fff"/>
<path transform="translate(91.30 1114.90) scale(53.3000 -56.4980)" d="M0.379 0 L0.379 0.688 L0.272 0.688 C0.255 0.6 0.19 0.556 0.062 0.552 L0.062 0.465 L0.233 0.465 L0.233 0 Z" fill="#000"/>
<rect x="92.34" y="1265.87" width="29.54" height="43.86" fill="#fff"/>
<path transform="translate(91.30 1307.80) scale(53.3000 -56.4980)" d="M0.379 0 L0.379 0.688 L0.272 0.688 C0.255 0.6 0.19 0.556 0.062 0.552 L0.062 0.465 L0.233 0.465 L0.233 0 Z" fill="#000"/>
<rect x="1915.88" y="1101.34" width="29.34" height="43.58" fill="#fff"/>
<path transform="translate(1914.85 1143.00) scale(52.9500 -56.1270)" d="M0.379 0 L0.379 0.688 L0.272 0.688 C0.255 0.6 0.19 0.556 0.062 0.552 L0.062 0.465 L0.233 0.465 L0.233 0 Z" fill="#000"/>
<rect x="1863.02" y="1193.04" width="29.34" height="43.58" fill="#fff"/>
<path transform="translate(1861.99 1234.70) scale(52.9500 -56.1270)" d="M0.379 0 L0.379 0.688 L0.272 0.688 C0.255 0.6 0.19 0.556 0.062 0.552 L0.062 0.465 L0.233 0.465 L0.233 0 Z" fill="#000"/>
<rect x="2024.94" y="1193.04" width="29.34" height="43.58" fill="#fff"/>
<path transform="translate(2023.90 1234.70) scale(52.9500 -56.1270)" d="M0.379 0 L0.379 0.688 L0.272 0.688 C0.255 0.6 0.19 0.556 0.062 0.552 L0.062 0.465 L0.233 0.465 L0.233 0 Z" fill="#000"/>
<rect x="419.14" y="1493.48" width="36.58" height="54.31" fill="#fff"/>
<path transform="translate(417.85 1545.40) scale(66.0000 -69.9600)" d="M0.379 0 L0.379 0.688 L0.272 0.688 C0.255 0.6 0.19 0.556 0.062 0.552 L0.062 0.465 L0.233 0.465 L0.233 0 Z" fill="#000"/>
<rect x="620.98" y="1493.48" width="36.58" height="54.31" fill="#fff"/>
<path transform="translate(619.69 1545.40) scale(66.0000 -69.9600)" d="M0.379 0 L0.379 0.688 L0.272 0.688 C0.255 0.6 0.19 0.556 0.062 0.552 L0.062 0.465 L0.233 0.465 L0.233 0 Z" fill="#000"/>
<rect x="1134.31" y="1493.48" width="36.58" height="54.31" fill="#fff"/>
<path transform="translate(1133.02 1545.40) scale(66.0000 -69.9600)" d="M0.379 0 L0.379 0.688 L0.272 0.688 C0.255 0.6 0.19 0.556 0.062 0.552 L0.062 0.465 L0.233 0.465 L0.233 0 Z" fill="#000"/>
<rect x="121.97" y="1606.47" width="29.54" height="43.86" fill="#fff"/>
<path transform="translate(120.93 1648.40) scale(53.3000 -56.4980)" d="M0.379 0 L0.379 0.688 L0.272 0.688 C0.255 0.6 0.19 0.556 0.062 0.552 L0.062 0.465 L0.233 0.465 L0.233 0 Z" fill="#000"/>
<rect x="121.97" y="1799.37" width="29.54" height="43.86" fill="#fff"/>
<path transform="translate(120.93 1841.30) scale(53.3000 -56.4980)" d="M0.379 0 L0.379 0.688 L0.272 0.688 C0.255 0.6 0.19 0.556 0.062 0.552 L0.062 0.465 L0.233 0.465 L0.233 0 Z" fill="#000"/>
</g>
</svg></body></html>
